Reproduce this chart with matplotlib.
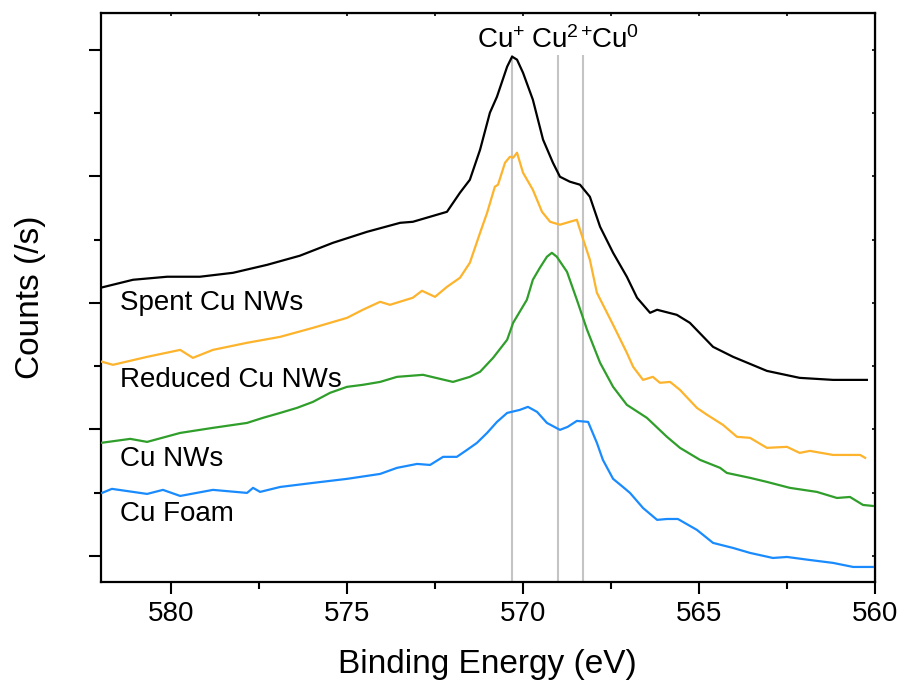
import matplotlib
matplotlib.use("Agg")
import matplotlib.pyplot as plt

plt.rcParams["font.family"] = ["Liberation Sans", "DejaVu Sans"]
plt.rcParams["mathtext.fontset"] = "custom"
plt.rcParams["mathtext.rm"] = "Liberation Sans"
plt.rcParams["mathtext.it"] = "Liberation Sans"

# binding energy (eV) / counts (arb. units, one major tick = 1)
spent_be = [582.0, 581.08, 580.11, 579.18, 578.24, 577.27, 576.34, 575.40, 574.43, 573.49,
            573.13, 572.16, 571.79, 571.51, 571.22, 570.94, 570.74, 570.45, 570.31, 570.17,
            570.00, 569.72, 569.43, 569.15, 568.95, 568.67, 568.38, 568.10, 567.81, 567.44,
            567.05, 566.76, 566.39, 566.19, 565.63, 565.26, 564.60, 564.03, 563.07, 562.14,
            561.19, 560.23]
spent_ct = [2.119, 2.182, 2.206, 2.206, 2.237, 2.300, 2.372, 2.474, 2.561, 2.632,
            2.640, 2.719, 2.870, 2.972, 3.209, 3.502, 3.628, 3.866, 3.945, 3.921,
            3.818, 3.605, 3.289, 3.107, 2.996, 2.957, 2.933, 2.838, 2.601, 2.395,
            2.206, 2.040, 1.921, 1.945, 1.905, 1.842, 1.652, 1.573, 1.462, 1.407,
            1.391, 1.391]

reduced_be = [581.96, 581.65, 580.68, 579.74, 579.38, 578.81, 577.84, 576.90, 575.97, 575.00,
              574.55, 574.06, 573.78, 573.13, 572.87, 572.50, 572.16, 571.79, 571.51, 571.22,
              571.02, 570.80, 570.71, 570.51, 570.37, 570.28, 570.17, 570.00, 569.72, 569.46,
              569.23, 568.95, 568.67, 568.47, 568.38, 568.10, 567.90, 567.44, 567.05, 566.87,
              566.59, 566.31, 566.11, 565.82, 565.54, 565.06, 564.77, 564.32, 563.92, 563.55,
              563.07, 562.50, 562.14, 561.85, 561.19, 560.42, 560.28]
reduced_ct = [1.534, 1.510, 1.573, 1.628, 1.565, 1.628, 1.684, 1.731, 1.802, 1.881,
              1.945, 2.008, 1.984, 2.040, 2.095, 2.047, 2.126, 2.198, 2.316, 2.553,
              2.711, 2.917, 2.933, 3.107, 3.154, 3.146, 3.186, 3.028, 2.893, 2.719,
              2.640, 2.617, 2.640, 2.656, 2.577, 2.340, 2.079, 1.826, 1.605, 1.494,
              1.391, 1.415, 1.368, 1.375, 1.312, 1.170, 1.115, 1.036, 0.941, 0.933,
              0.854, 0.862, 0.814, 0.830, 0.798, 0.798, 0.775]

nws_be = [582.0, 581.16, 580.68, 579.74, 578.81, 577.84, 577.39, 576.90, 576.42, 575.97,
          575.48, 575.00, 574.55, 574.06, 573.58, 572.84, 571.99, 571.51, 571.22, 570.85,
          570.45, 570.28, 569.89, 569.72, 569.52, 569.32, 569.18, 569.04, 568.75, 568.47,
          568.18, 567.81, 567.44, 567.05, 566.48, 565.91, 565.54, 564.97, 564.40, 564.21,
          563.55, 563.07, 562.42, 561.65, 561.08, 560.71, 560.34, 560.06]
nws_ct = [0.893, 0.925, 0.901, 0.972, 1.012, 1.051, 1.091, 1.130, 1.170, 1.217,
          1.289, 1.336, 1.352, 1.375, 1.415, 1.431, 1.375, 1.415, 1.455, 1.565,
          1.708, 1.842, 2.024, 2.182, 2.277, 2.364, 2.395, 2.364, 2.245, 2.024,
          1.787, 1.526, 1.336, 1.194, 1.091, 0.941, 0.854, 0.759, 0.696, 0.656,
          0.617, 0.585, 0.538, 0.506, 0.458, 0.466, 0.403, 0.395]

foam_be = [581.96, 581.68, 580.68, 580.23, 579.74, 578.81, 577.84, 577.67, 577.47, 576.90,
           575.97, 575.00, 574.06, 573.58, 573.01, 572.64, 572.27, 571.88, 571.59, 571.31,
           571.02, 570.74, 570.45, 570.09, 569.86, 569.60, 569.32, 568.95, 568.73, 568.47,
           568.15, 567.90, 567.73, 567.44, 567.16, 566.96, 566.59, 566.19, 565.91, 565.60,
           565.06, 564.60, 564.03, 563.55, 562.90, 562.50, 561.85, 561.19, 560.62, 560.06]
foam_ct = [0.498, 0.530, 0.490, 0.522, 0.474, 0.522, 0.498, 0.538, 0.506, 0.545,
           0.577, 0.609, 0.648, 0.696, 0.727, 0.719, 0.783, 0.783, 0.838, 0.893,
           0.972, 1.059, 1.130, 1.154, 1.178, 1.138, 1.051, 0.996, 1.020, 1.067,
           1.059, 0.893, 0.759, 0.609, 0.545, 0.498, 0.379, 0.285, 0.292, 0.292,
           0.206, 0.103, 0.063, 0.024, -0.016, -0.008, -0.032, -0.055, -0.087, -0.087]

ref_lines = [570.3, 569.0, 568.3]
ref_labels = ["Cu$^{+}$", "Cu$^{2+}$", "Cu$^{0}$"]
ref_label_x = [571.31, 569.77, 568.08]

series = [
    ("Spent Cu NWs", spent_be, spent_ct, "#000000", 1.945),
    ("Reduced Cu NWs", reduced_be, reduced_ct, "#FDB32B", 1.336),
    ("Cu NWs", nws_be, nws_ct, "#2F9E2A", 0.711),
    ("Cu Foam", foam_be, foam_ct, "#1A8BFF", 0.277),
]

fig = plt.figure(figsize=(9.01, 6.82), dpi=100)
ax = fig.add_axes([0.1117, 0.1466, 0.8594, 0.8344])

for x in ref_lines:
    ax.vlines(x, -0.3, 3.96, color="#c4c4c4", lw=1.5, zorder=1)

for name, be, ct, color, ylab in series:
    ax.plot(be, ct, color=color, lw=1.6, zorder=3)
    ax.text(581.45, ylab, name, fontsize=20, ha="left", va="baseline")

for lab, x in zip(ref_labels, ref_label_x):
    ax.text(x, 4.016, lab, fontsize=20, ha="left", va="baseline")

ax.set_xlim(582, 560)
ax.set_ylim(-0.206, 4.29)
ax.set_xticks([580, 575, 570, 565, 560])
ax.set_xticks([577.5, 572.5, 567.5, 562.5], minor=True)
ax.set_yticks([0, 1, 2, 3, 4])
ax.set_yticks([0.5, 1.5, 2.5, 3.5], minor=True)
ax.set_yticklabels([])

ax.tick_params(which="major", direction="out", length=8.5, width=1.5, labelsize=20, pad=5)
ax.tick_params(which="minor", direction="out", length=5, width=1.5)
for sp in ax.spines.values():
    sp.set_linewidth(1.6)

# tiny inward ticks on top and right
top = ax.secondary_xaxis("top")
top.set_xticks([580, 577.5, 575, 572.5, 570, 567.5, 565, 562.5, 560])
top.tick_params(direction="in", length=2, width=1.2, labeltop=False)
right = ax.secondary_yaxis("right")
right.set_yticks([0, 0.5, 1, 1.5, 2, 2.5, 3, 3.5, 4])
right.tick_params(direction="in", length=2, width=1.2, labelright=False)

ax.set_xlabel("Binding Energy (eV)", fontsize=24, labelpad=16)
ax.set_ylabel("Counts (/s)", fontsize=24, labelpad=26)

fig.savefig("out.png", dpi=100)
